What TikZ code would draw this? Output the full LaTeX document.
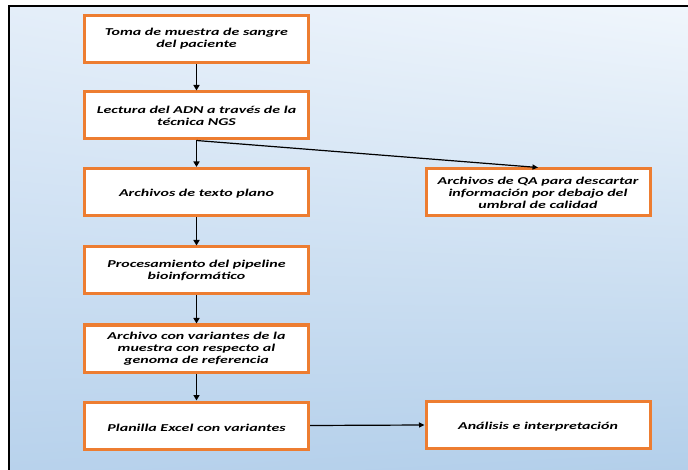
\documentclass[tikz,border=0pt]{standalone}
\usepackage{fontspec}
\setmainfont{Carlito}[FakeStretch=1.52]
\usetikzlibrary{arrows.meta,shadings}
\definecolor{boxorange}{HTML}{ED7D31}
\definecolor{bgUL}{HTML}{E4EEF9}
\definecolor{bgUR}{HTML}{F0F6FC}
\definecolor{bgLL}{HTML}{B8D2EC}
\definecolor{bgLR}{HTML}{B3CFEA}
\begin{document}
\begin{tikzpicture}[x=1pt,y=-1pt,
  box/.style={draw=boxorange, line width=3pt, fill=white, minimum width=224pt, minimum height=47pt,
    align=center, font=\bfseries\itshape\fontsize{10.5}{12}\selectfont, inner sep=0pt,
    execute at begin node={\rule{0pt}{11.5pt}}},
  arr/.style={-{Triangle[length=5.5pt,width=6pt]}, line width=1.8pt},
  thinarr/.style={-{Triangle[length=5.5pt,width=5pt]}, line width=1.2pt}]
\useasboundingbox (0,0) rectangle (688,470);
\shade[upper left=bgUL, upper right=bgUR, lower left=bgLL, lower right=bgLR] (9,6) rectangle (688,470);
\draw[line width=1.5pt] (9,470) -- (9,6) -- (688,6);

\node[box] (n1) at (196.5,39) {Toma de muestra de sangre\\del paciente};
\node[box] (n2) at (196.5,115.5) {Lectura del ADN a través de la\\técnica NGS};
\node[box] (n3) at (196.5,192) {Archivos de texto plano};
\node[box] (n4) at (196.5,270.5) {Procesamiento del pipeline\\bioinformático};
\node[box] (n5) at (196.5,348.5) {Archivo con variantes de la\\muestra con respecto al\\genoma de referencia};
\node[box] (n6) at (196.5,425.5) {Planilla Excel con variantes};
\node[box] (qa) at (538,192.5) {Archivos de QA para descartar\\información por debajo del\\umbral de calidad};
\node[box] (an) at (538,425) {Análisis e interpretación};

\draw[arr] (n1) -- (n2);
\draw[arr] (n2) -- (n3);
\draw[arr] (n3) -- (n4);
\draw[arr] (n4) -- (n5);
\draw[arr] (n5) -- (n6);
\draw[thinarr] (n2.south) -- (qa.north);
\draw[thinarr] (n6.east) -- (an.west);
\end{tikzpicture}
\end{document}
